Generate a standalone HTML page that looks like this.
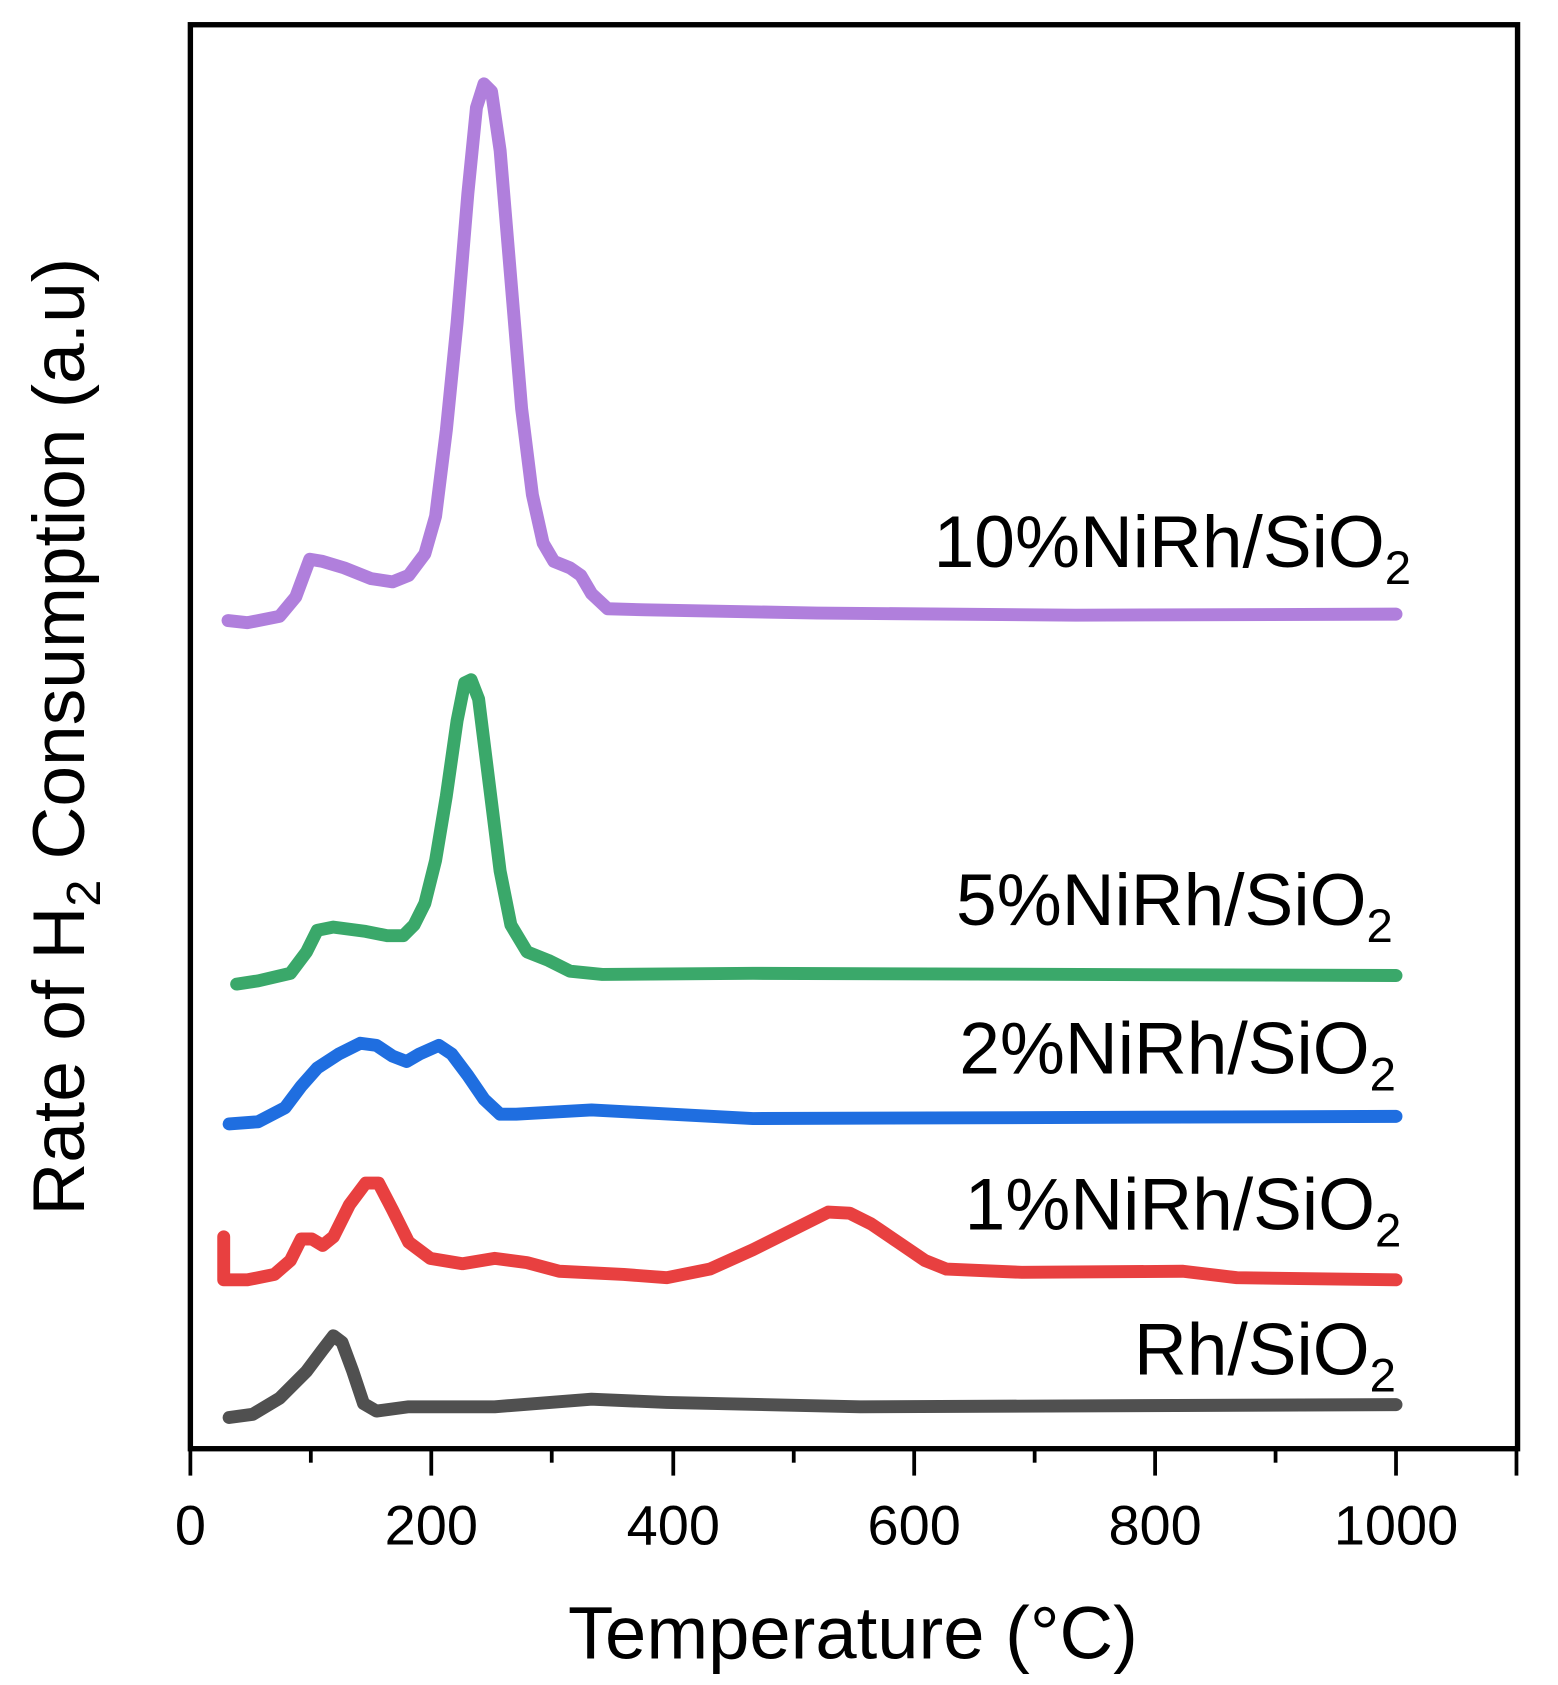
<!DOCTYPE html>
<html><head><meta charset="utf-8"><style>html,body{margin:0;padding:0;background:#fff}svg{display:block}</style></head>
<body>
<svg width="1558" height="1685" viewBox="0 0 1448.6 1566.7" xmlns="http://www.w3.org/2000/svg" font-family="Liberation Sans, sans-serif">
<rect width="1448.6" height="1566.7" fill="#fff"/>
<g fill="none" stroke-width="12" stroke-linecap="round" stroke-linejoin="round">
<polyline stroke="#b07fdc" points="212,577 230,579 260,573 275,555 288,520 300,522 320,528 345,538 365,541 380,535 395,515 405,480 415,400 425,300 435,180 443,100 450,78 457,85 465,140 475,260 485,380 495,460 505,505 515,522 530,528 540,535 550,552 565,566 600,567 760,570 1000,572 1298,571"/>
<polyline stroke="#3aa86a" points="220,915 240,912 270,905 285,885 295,865 310,862 340,866 360,870 375,870 385,860 395,840 405,800 415,740 425,670 432,635 438,632 445,650 455,730 465,810 475,860 490,885 510,893 530,903 560,906 700,905 1298,907"/>
<polyline stroke="#1f6ee0" points="213,1045 240,1043 265,1030 280,1010 295,993 315,980 335,970 350,972 365,982 378,987 390,980 408,972 420,980 435,1000 450,1022 465,1036 480,1036 550,1032 700,1040 1298,1038"/>
<polyline stroke="#e84040" points="208,1150 208,1190 230,1190 255,1185 270,1172 280,1152 290,1152 300,1158 310,1150 325,1120 340,1100 352,1100 365,1125 380,1155 400,1170 430,1175 460,1170 490,1174 520,1182 580,1185 620,1188 660,1180 700,1162 740,1142 770,1127 790,1128 810,1138 835,1155 860,1172 880,1180 950,1183 1100,1182 1150,1188 1298,1190"/>
<polyline stroke="#505050" points="213,1318 235,1315 260,1300 285,1275 300,1255 310,1242 318,1248 328,1275 338,1305 350,1312 380,1308 460,1308 550,1301 620,1304 800,1308 1298,1306"/>
</g>
<rect x="177" y="23" width="1234" height="1324" fill="none" stroke="#000" stroke-width="5"/>
<g stroke="#000" stroke-width="3.5">
<line x1="177" y1="1347" x2="177" y2="1372"/><line x1="289" y1="1347" x2="289" y2="1360"/>
<line x1="401" y1="1347" x2="401" y2="1372"/><line x1="513" y1="1347" x2="513" y2="1360"/>
<line x1="626" y1="1347" x2="626" y2="1372"/><line x1="738" y1="1347" x2="738" y2="1360"/>
<line x1="850" y1="1347" x2="850" y2="1372"/><line x1="962" y1="1347" x2="962" y2="1360"/>
<line x1="1074" y1="1347" x2="1074" y2="1372"/><line x1="1186" y1="1347" x2="1186" y2="1360"/>
<line x1="1298" y1="1347" x2="1298" y2="1372"/><line x1="1410" y1="1347" x2="1410" y2="1372"/>
</g>
<g font-size="52" text-anchor="middle" fill="#000">
<text x="177" y="1436">0</text><text x="401" y="1436">200</text><text x="626" y="1436">400</text>
<text x="850" y="1436">600</text><text x="1074" y="1436">800</text><text x="1298" y="1436">1000</text>
</g>
<text x="793" y="1542" font-size="69" text-anchor="middle">Temperature (°C)</text>
<text transform="translate(78,685) rotate(-90)" font-size="68" text-anchor="middle">Rate of H<tspan font-size="45" dy="15">2</tspan><tspan dy="-15"> Consumption (a.u)</tspan></text>
<g font-size="68" fill="#000" text-anchor="end">
<text x="1312" y="527">10%NiRh/SiO<tspan font-size="44" dy="16">2</tspan></text>
<text x="1295" y="860">5%NiRh/SiO<tspan font-size="44" dy="16">2</tspan></text>
<text x="1298" y="998">2%NiRh/SiO<tspan font-size="44" dy="16">2</tspan></text>
<text x="1303" y="1143">1%NiRh/SiO<tspan font-size="44" dy="16">2</tspan></text>
<text x="1298" y="1278">Rh/SiO<tspan font-size="44" dy="16">2</tspan></text>
</g>
</svg>
</body></html>
